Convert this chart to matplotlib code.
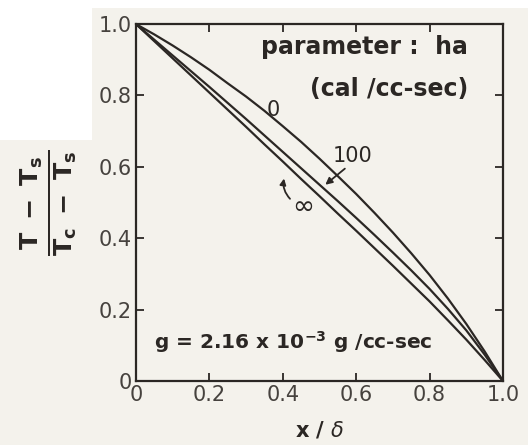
import matplotlib
matplotlib.use('Agg')
import matplotlib.pyplot as plt
from matplotlib.patches import Rectangle, FancyArrowPatch

plt.rcParams['font.family'] = 'DejaVu Sans'
plt.rcParams['mathtext.fontset'] = 'dejavusans'

# temperature profiles across the slab, parameter ha (cal/cc-sec)
x_frac = [0.0, 0.05, 0.1, 0.15, 0.2, 0.25, 0.3, 0.35, 0.4, 0.45, 0.5,
          0.55, 0.6, 0.65, 0.7, 0.75, 0.8, 0.85, 0.9, 0.95, 1.0]
theta_ha0 = [1.0, 0.971, 0.940, 0.907, 0.872, 0.834, 0.797, 0.757, 0.714, 0.670, 0.623,
             0.574, 0.524, 0.471, 0.416, 0.358, 0.297, 0.231, 0.160, 0.083, 0.0]
theta_ha100 = [1.0, 0.956, 0.912, 0.868, 0.824, 0.779, 0.734, 0.688, 0.642, 0.596, 0.550,
               0.504, 0.457, 0.409, 0.360, 0.310, 0.258, 0.202, 0.142, 0.074, 0.0]
theta_inf = [1.0, 0.952, 0.904, 0.856, 0.808, 0.760, 0.712, 0.663, 0.615, 0.566, 0.518,
             0.469, 0.421, 0.372, 0.323, 0.273, 0.223, 0.170, 0.116, 0.059, 0.0]

ticks = [0, 0.2, 0.4, 0.6, 0.8, 1.0]
tick_labels = ['0', '0.2', '0.4', '0.6', '0.8', '1.0']

ink = '#2b2724'
paper = '#f4f2ec'

fig = plt.figure(figsize=(5.28, 4.45), dpi=100, facecolor=paper)
# white margin left by the scanner
fig.patches.append(Rectangle((0, 0.983), 1, 0.017, transform=fig.transFigure,
                             facecolor='white', edgecolor='none', zorder=0))
fig.patches.append(Rectangle((0, 0.685), 0.175, 0.315, transform=fig.transFigure,
                             facecolor='white', edgecolor='none', zorder=0))

ax = fig.add_axes([0.2576, 0.1438, 0.695, 0.802])
ax.set_facecolor(paper)

for y in (theta_ha0, theta_ha100, theta_inf):
    ax.plot(x_frac, y, color=ink, lw=1.6, solid_joinstyle='round')

ax.set_xlim(0, 1)
ax.set_ylim(0, 1)
ax.set_xticks(ticks)
ax.set_xticklabels(tick_labels)
ax.set_yticks(ticks)
ax.set_yticklabels(tick_labels)
ax.tick_params(direction='in', length=6, width=1.3, color=ink, top=True, right=True,
               labelsize=15, labelcolor='#46423e', pad=3)
for s in ax.spines.values():
    s.set_color(ink)
    s.set_linewidth(1.6)

ax.set_xlabel(r'x / $\delta$', fontsize=15, fontweight='bold', color=ink, labelpad=10)
ax.set_ylabel(r'$\mathbf{\frac{T\ -\ T_s}{T_c\ -\ T_s}}$', fontsize=26, color=ink,
              labelpad=14)

ax.text(0.905, 0.935, 'parameter :  ha', ha='right', va='center', fontsize=17,
        fontweight='bold', color=ink)
ax.text(0.905, 0.818, '(cal /cc-sec)', ha='right', va='center', fontsize=17,
        fontweight='bold', color=ink)
ax.text(0.05, 0.11, r'g = 2.16 x 10$^{\mathbf{-3}}$ g /cc-sec', ha='left', va='center',
        fontsize=14.5, fontweight='bold', color=ink)

ax.text(0.375, 0.758, '0', ha='center', va='center', fontsize=15, color=ink)
ax.text(0.59, 0.63, '100', ha='center', va='center', fontsize=15, color=ink)
ax.text(0.455, 0.49, r'$\infty$', ha='center', va='center', fontsize=19, color=ink)

ax.annotate('', xy=(0.51, 0.545), xytext=(0.575, 0.60),
            arrowprops=dict(arrowstyle='-|>', color=ink, lw=1.3, mutation_scale=10))
ax.add_patch(FancyArrowPatch((0.425, 0.505), (0.405, 0.575),
                             connectionstyle='arc3,rad=-0.3', arrowstyle='-|>',
                             color=ink, lw=1.3, mutation_scale=9))

fig.savefig('out.png', dpi=100, facecolor=fig.get_facecolor())
